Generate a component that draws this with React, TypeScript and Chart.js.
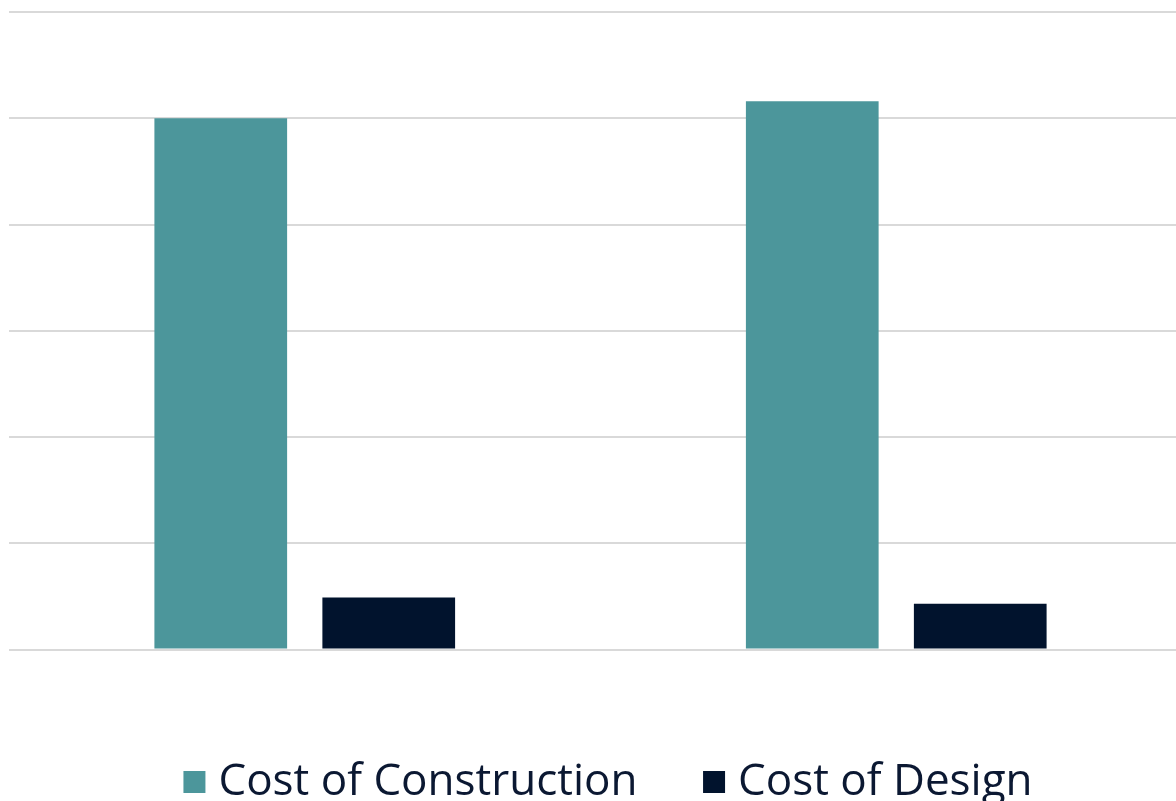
import React, { useEffect, useRef } from 'react';
import { Chart, registerables } from 'chart.js';

Chart.register(...registerables);

// ---- data ----
const categories = ['Option 1', 'Option 2'];
const seriesNames = ['Cost of Construction', 'Cost of Design'];
const constructionCost = [5.0, 5.16];
const designCost = [0.49, 0.43];
const yMin = 0;
const yMax = 6;
const yStep = 1;

const COLORS = ['#4C969B', '#01132D'];
const TEXT_COLOR = '#0B1832';

function makeSwatch(color: string): HTMLCanvasElement {
  const c = document.createElement('canvas');
  c.width = 50;
  c.height = 22;
  const g = c.getContext('2d');
  if (g) {
    g.fillStyle = color;
    g.fillRect(26, 0, 22, 22);
  }
  return c;
}

export default function App() {
  const ref = useRef<HTMLCanvasElement | null>(null);

  useEffect(() => {
    if (!ref.current) return;
    const chart = new Chart(ref.current, {
      type: 'bar',
      data: {
        labels: categories,
        datasets: [
          {
            label: seriesNames[0],
            data: constructionCost,
            backgroundColor: COLORS[0],
            barPercentage: 0.79,
            categoryPercentage: 0.568,
          },
          {
            label: seriesNames[1],
            data: designCost,
            backgroundColor: COLORS[1],
            barPercentage: 0.79,
            categoryPercentage: 0.568,
          },
        ],
      },
      options: {
        responsive: false,
        animation: false,
        devicePixelRatio: 1,
        layout: { padding: { left: 9, top: 12, right: 0, bottom: 0 } },
        scales: {
          x: {
            display: true,
            grid: { display: false, drawTicks: true, tickLength: 60 },
            ticks: { display: false },
            border: { display: false },
          },
          y: {
            min: yMin,
            max: yMax,
            ticks: { display: false, stepSize: yStep },
            grid: { color: '#D9D9D9', lineWidth: 2, drawTicks: false },
            border: { display: false },
          },
        },
        plugins: {
          tooltip: { enabled: false },
          legend: {
            position: 'bottom',
            labels: {
              usePointStyle: true,
              pointStyleWidth: 28,
              padding: 50.5,
              color: TEXT_COLOR,
              font: { family: "'Open Sans'", size: 44, weight: 'normal' },
              generateLabels: (ch: any) => {
                const items = Chart.defaults.plugins.legend.labels.generateLabels(ch);
                return items.map((it: any, i: number) => ({
                  ...it,
                  pointStyle: makeSwatch(COLORS[i]),
                }));
              },
            },
          },
        },
      } as any,
    });
    return () => chart.destroy();
  }, []);

  return (
    <div
      style={{
        position: 'fixed',
        left: 0,
        top: 0,
        width: 1176,
        height: 801,
        overflow: 'hidden',
        background: '#FFFFFF',
      }}
    >
      <canvas ref={ref} width={1192} height={814} style={{ display: 'block' }} />
    </div>
  );
}
